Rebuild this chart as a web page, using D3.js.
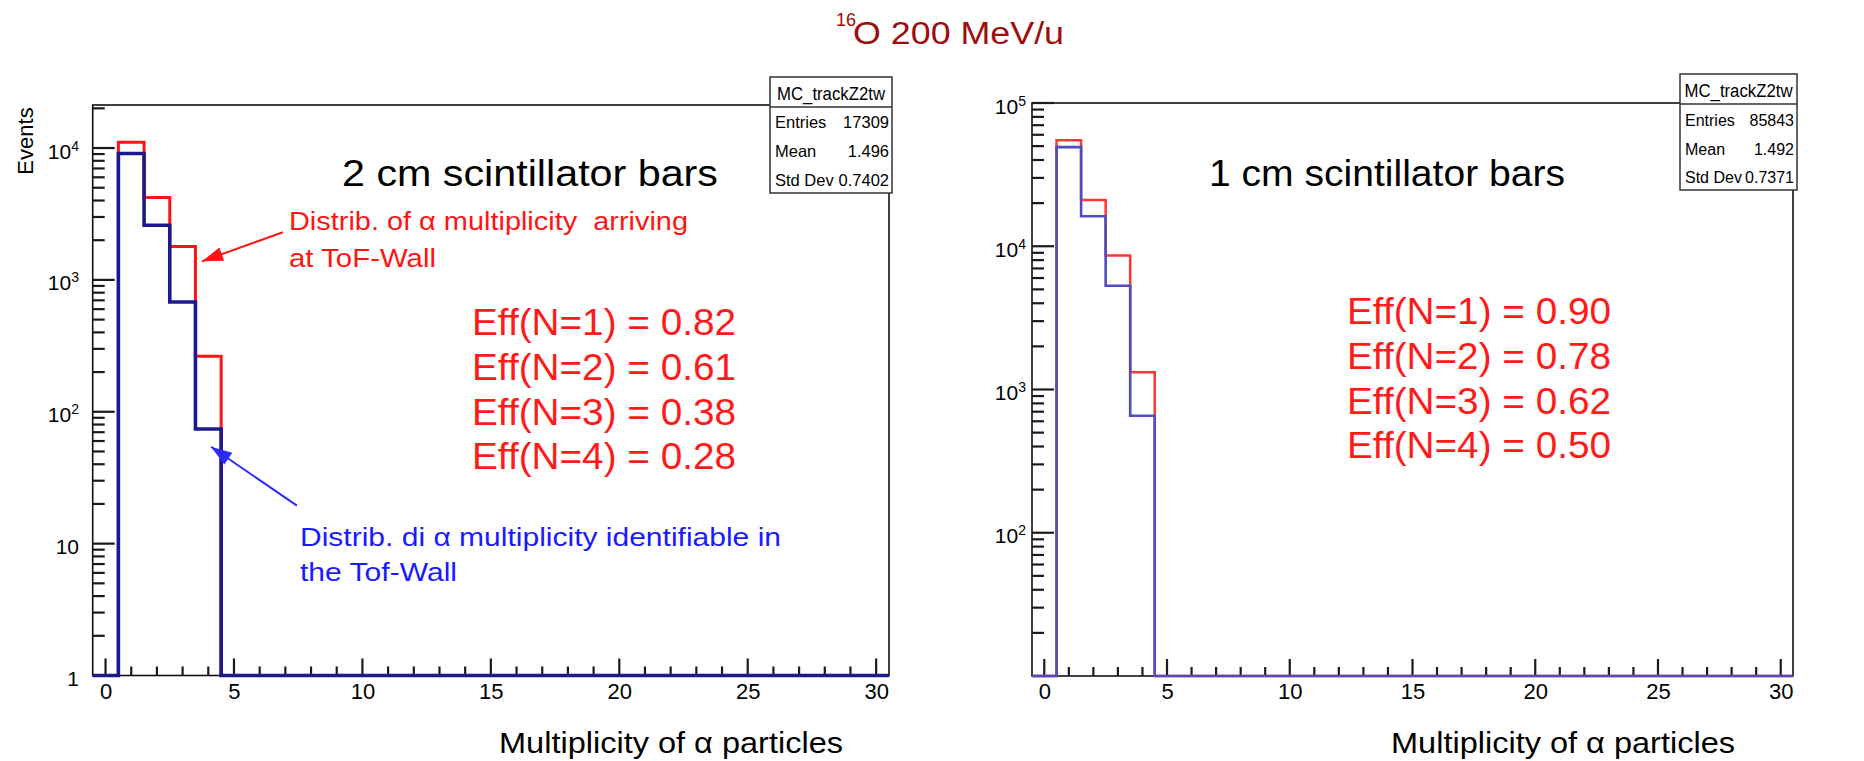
<!DOCTYPE html>
<html><head><meta charset="utf-8">
<script src="https://cdn.jsdelivr.net/npm/d3@7"></script>
<style>
html,body{margin:0;padding:0;background:#fff;}
svg{display:block;font-family:"Liberation Sans",Arial,Helvetica,sans-serif;}
text{white-space:pre;}
</style></head><body>
<svg id="chart" width="1864" height="761"></svg>
<script>
// ---------------- data ----------------
const bins = [0,1,2,3,4,5,6,7,8,9,10,11,12,13,14,15,16,17,18,19,20,21,22,23,24,25,26,27,28,29,30];
const arriving2cm   = [0,11040,4220,1790,264,0,0,0,0,0,0,0,0,0,0,0,0,0,0,0,0,0,0,0,0,0,0,0,0,0,0];
const identified2cm = [0,9100,2600,680,74,0,0,0,0,0,0,0,0,0,0,0,0,0,0,0,0,0,0,0,0,0,0,0,0,0,0];
const arriving1cm   = [0,54880,21010,8630,1320,0,0,0,0,0,0,0,0,0,0,0,0,0,0,0,0,0,0,0,0,0,0,0,0,0,0];
const identified1cm = [0,49200,16200,5300,655,0,0,0,0,0,0,0,0,0,0,0,0,0,0,0,0,0,0,0,0,0,0,0,0,0,0];
const xTickLabels = [0,5,10,15,20,25,30];
const yLabels2cm = [1,10,100,1000,10000];
const yLabels1cm = [100,1000,10000,100000];
const eff2cm = [0.82,0.61,0.38,0.28];
const eff1cm = [0.90,0.78,0.62,0.50];
const statNames = ["Entries","Mean","Std Dev"];
const stats2cm = ["17309","1.496","0.7402"];
const stats1cm = ["85843","1.492","0.7371"];
const histName = "MC_trackZ2tw";
const xTitle = "Multiplicity of \u03b1 particles";

// ---------------- helpers ----------------
const svg = d3.select("#chart");
function txt(g, s, o){
  const t = g.append("text")
    .attr("x", o.x).attr("y", o.y)
    .attr("font-size", o.size)
    .attr("fill", o.fill || "#000")
    .attr("text-anchor", o.anchor || "start")
    .text(s);
  if (o.w) t.attr("textLength", o.w).attr("lengthAdjust", "spacingAndGlyphs");
  return t;
}
function arrow(g, x0, y0, x1, y1, color){
  g.append("line").attr("x1",x0).attr("y1",y0).attr("x2",x1).attr("y2",y1)
    .attr("stroke",color).attr("stroke-width",2);
  const a = Math.atan2(y1-y0, x1-x0), L = 21, hw = 7;
  const bx = x1 - L*Math.cos(a), by = y1 - L*Math.sin(a);
  const px = -Math.sin(a)*hw, py = Math.cos(a)*hw;
  g.append("path").attr("d", `M${x1},${y1}L${bx+px},${by+py}L${bx-px},${by-py}Z`).attr("fill", color);
}

// ---------------- title ----------------
txt(svg, "16", {x:836, y:26, size:18, fill:"#a00d0d"});
txt(svg, "O 200 MeV/u", {x:853, y:43.5, size:31, fill:"#a00d0d", w:211});

// ---------------- panels ----------------
function drawPanel(p){
  const x = d3.scaleLinear().domain([-0.5, 30.5]).range([p.l, p.r]);
  const y = d3.scaleLog().domain(p.yDom).range([p.b, p.t]).clamp(true);
  const g = svg.append("g");
  const tickCol = "#1a1a1a";

  // frame
  g.append("rect").attr("x", p.l).attr("y", p.t).attr("width", p.r - p.l).attr("height", p.b - p.t)
    .attr("fill", "none").attr("stroke", "#111").attr("stroke-width", 1.6);

  // x ticks (inward), via scale
  g.selectAll("line.xt").data(bins).join("line").attr("class","xt")
    .attr("x1", d => x(d)).attr("x2", d => x(d))
    .attr("y1", p.b).attr("y2", d => p.b - (d % 5 === 0 ? 17 : 9))
    .attr("stroke", tickCol).attr("stroke-width", 2.2);
  // y ticks (inward)
  const allTicks = y.ticks();
  const isMajor = v => Math.abs(Math.log10(v) - Math.round(Math.log10(v))) < 1e-9;
  g.selectAll("line.yt").data(allTicks).join("line").attr("class","yt")
    .attr("y1", d => y(d)).attr("y2", d => y(d))
    .attr("x1", p.l).attr("x2", d => p.l + (isMajor(d) ? 22 : 12))
    .attr("stroke", tickCol).attr("stroke-width", 2.2);

  // x labels through d3 axis
  const xa = g.append("g").attr("transform", `translate(0,${p.b})`)
    .call(d3.axisBottom(x).tickValues(xTickLabels).tickSize(0).tickPadding(p.xPad).tickFormat(d3.format("d")));
  xa.select(".domain").remove();
  xa.selectAll(".tick line").remove();
  xa.selectAll("text").attr("font-size", 22).attr("font-family", null).attr("fill", "#000");

  // y labels through d3 axis
  const ya = g.append("g").attr("transform", `translate(${p.l},0)`)
    .call(d3.axisLeft(y).tickValues(p.yLabels).tickSize(0).tickPadding(p.l - p.labX));
  ya.select(".domain").remove();
  ya.selectAll(".tick line").remove();
  ya.selectAll("text").attr("font-size", 21).attr("font-family", null).attr("fill", "#000")
    .attr("dy", null).attr("y", 10)
    .each(function(d){
      const t = d3.select(this); t.text(null);
      const e = Math.round(Math.log10(d));
      if (e < 2) { t.text(String(d)); }
      else {
        t.append("tspan").text("10");
        t.append("tspan").attr("dy", -8).attr("font-size", 14).text(String(e));
      }
    });

  // histograms
  const line = d3.line().curve(d3.curveStepAfter);
  const pts = vals => {
    const a = vals.map((v, i) => [x(bins[i] - 0.5), y(Math.max(v, p.yDom[0]))]);
    a.push([x(bins[bins.length-1] + 0.5), y(Math.max(vals[vals.length-1], p.yDom[0]))]);
    return a;
  };
  g.append("path").attr("d", line(pts(p.red))).attr("fill", "none")
    .attr("stroke", p.redC).attr("stroke-width", p.redW);
  g.append("path").attr("d", line(pts(p.blue))).attr("fill", "none")
    .attr("stroke", p.blueC).attr("stroke-width", p.blueW);

  // axis title
  txt(g, xTitle, {x: p.titleX, y: 753, size: 29, w: 344});

  // scintillator label
  txt(g, p.label, {x: p.labelX, y: 186, size: 37, w: p.labelW});

  // efficiencies
  p.eff.forEach((v, i) => {
    txt(g, `Eff(N=${i+1}) = ${v.toFixed(2)}`, {x: p.effX, y: p.effY + i*44.8, size: 36, fill: "#ff1a1a", w: 264});
  });

  // stats box
  const b = p.box;
  const sb = svg.append("g");
  sb.append("rect").attr("x", b.l).attr("y", b.t).attr("width", b.r - b.l).attr("height", b.b - b.t)
    .attr("fill", "#fff").attr("stroke", "#333").attr("stroke-width", 1.5);
  sb.append("line").attr("x1", b.l).attr("x2", b.r).attr("y1", b.div).attr("y2", b.div)
    .attr("stroke", "#333").attr("stroke-width", 1.3);
  txt(sb, histName, {x: (b.l + b.r)/2, y: b.titleY, size: 18, anchor: "middle", w: 108});
  statNames.forEach((n, i) => {
    txt(sb, n, {x: b.l + 5, y: b.rows[i], size: b.fs});
    txt(sb, p.stats[i], {x: b.r - 3, y: b.rows[i], size: b.fs, anchor: "end"});
  });
  return {x, y, g};
}

const left = drawPanel({
  l: 92.7, r: 889, t: 105, b: 675.5, yDom: [1, 21200], yLabels: yLabels2cm, labX: 79, xPad: 8,
  red: arriving2cm, blue: identified2cm, redC: "#ff1414", blueC: "#1a1a8e", redW: 3, blueW: 3.6,
  titleX: 499, label: "2 cm scintillator bars", labelX: 342, labelW: 376,
  eff: eff2cm, effX: 472, effY: 335, stats: stats2cm,
  box: {l: 770, r: 892, t: 77, b: 193, div: 107, titleY: 100, rows: [128, 157, 185.5], fs: 16.5}
});
const right = drawPanel({
  l: 1032, r: 1793, t: 103, b: 676, yDom: [10, 100000], yLabels: yLabels1cm, labX: 1026, xPad: 7,
  red: arriving1cm, blue: identified1cm, redC: "#ff3535", blueC: "#4d4dc0", redW: 2.5, blueW: 2.6,
  titleX: 1391, label: "1 cm scintillator bars", labelX: 1209, labelW: 356,
  eff: eff1cm, effX: 1347, effY: 324, stats: stats1cm,
  box: {l: 1680, r: 1797, t: 74, b: 190, div: 104, titleY: 97, rows: [125.5, 154.5, 183], fs: 16}
});

// "Events" y title (left panel only)
svg.append("text").attr("transform", "translate(33,141) rotate(-90)")
  .attr("text-anchor", "middle").attr("font-size", 22).attr("fill", "#000").text("Events");

// annotations (left panel), anchored in data units
const ann = svg.append("g");
txt(ann, "Distrib. of \u03b1 multiplicity  arriving", {x: 289, y: 230, size: 26, fill: "#ff1414", w: 399});
txt(ann, "at ToF-Wall", {x: 289, y: 266.5, size: 26, fill: "#ff1414", w: 147});
arrow(ann, left.x(6.9), left.y(2300), left.x(3.755), left.y(1383), "#ff1414");
txt(ann, "Distrib. di \u03b1 multiplicity identifiable in", {x: 300, y: 546, size: 26, fill: "#1a1aff", w: 481});
txt(ann, "the Tof-Wall", {x: 300, y: 580.5, size: 26, fill: "#1a1aff", w: 157});
arrow(ann, left.x(7.45), left.y(19.4), left.x(4.105), left.y(54.3), "#2a2aff");
</script>
</body></html>
